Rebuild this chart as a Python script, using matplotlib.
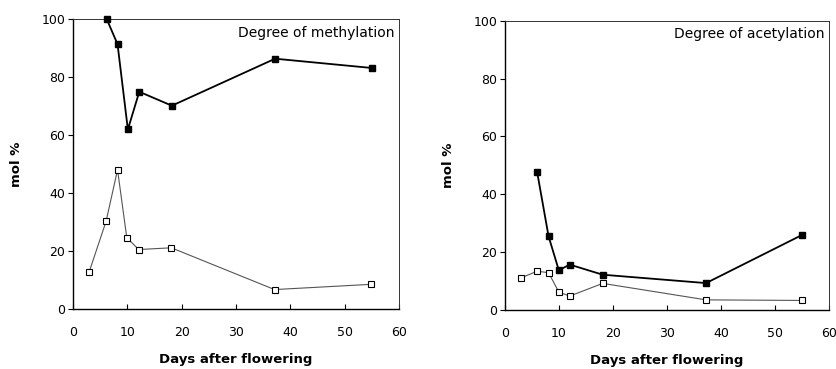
import matplotlib
matplotlib.use("Agg")
import matplotlib.pyplot as plt

plt.rcParams['font.family'] = ['DejaVu Sans']

# Degree of methylation
meth_filled_x = [6.2, 8.2, 10.1, 12.2, 18.2, 37.2, 55.0]
meth_filled_y = [100, 91.3, 61.9, 74.9, 70.1, 86.3, 83.1]
meth_open_x = [3.0, 6.1, 8.2, 9.9, 12.1, 18.1, 37.1, 54.8]
meth_open_y = [12.9, 30.3, 48.0, 24.6, 20.5, 21.1, 6.7, 8.5]

# Degree of acetylation
acet_filled_x = [6.0, 8.1, 10.0, 12.0, 18.1, 37.2, 55.0]
acet_filled_y = [47.6, 25.5, 13.7, 15.7, 12.2, 9.3, 26.0]
acet_open_x = [3.0, 6.0, 8.1, 10.0, 12.0, 18.1, 37.2, 55.0]
acet_open_y = [11.1, 13.4, 12.9, 6.2, 4.8, 9.2, 3.5, 3.3]

x_ticks = [0, 10, 20, 30, 40, 50, 60]
y_ticks = [0, 20, 40, 60, 80, 100]

fig = plt.figure(figsize=(8.37, 3.69), dpi=100)
ax1 = fig.add_axes([0.0872, 0.1626, 0.3895, 0.786])
ax2 = fig.add_axes([0.6030, 0.1599, 0.3880, 0.784])

panels = [
    (ax1, meth_filled_x, meth_filled_y, meth_open_x, meth_open_y, 'Degree of methylation'),
    (ax2, acet_filled_x, acet_filled_y, acet_open_x, acet_open_y, 'Degree of acetylation'),
]

for ax, fx, fy, ox, oy, titulo in panels:
    ax.plot(ox, oy, color='#555555', lw=0.8, marker='s', ms=4.2,
            mfc='white', mec='black', mew=0.8, clip_on=False, zorder=3)
    ax.plot(fx, fy, color='black', lw=1.3, marker='s', ms=4.2,
            mfc='black', mec='black', clip_on=False, zorder=4)
    ax.set_xlim(0, 60)
    ax.set_ylim(0, 100)
    ax.set_xticks(x_ticks)
    ax.set_yticks(y_ticks)
    ax.tick_params(axis='x', direction='in', length=3.5, width=0.8, pad=12, labelsize=9)
    ax.tick_params(axis='y', direction='out', length=3.5, width=0.8, pad=2, labelsize=9)
    for s in ['left', 'bottom']:
        ax.spines[s].set_linewidth(1.0)
    for s in ['top', 'right']:
        ax.spines[s].set_linewidth(0.7)
        ax.spines[s].set_color('#333333')
    ax.set_xlabel('Days after flowering', fontsize=9.5, fontweight='bold', labelpad=10)
    ax.set_ylabel('mol %', fontsize=9.5, fontweight='bold', labelpad=13)
    ax.text(0.985, 0.953, titulo, transform=ax.transAxes, ha='right', va='center', fontsize=10)

fig.savefig('out.png', dpi=100)
